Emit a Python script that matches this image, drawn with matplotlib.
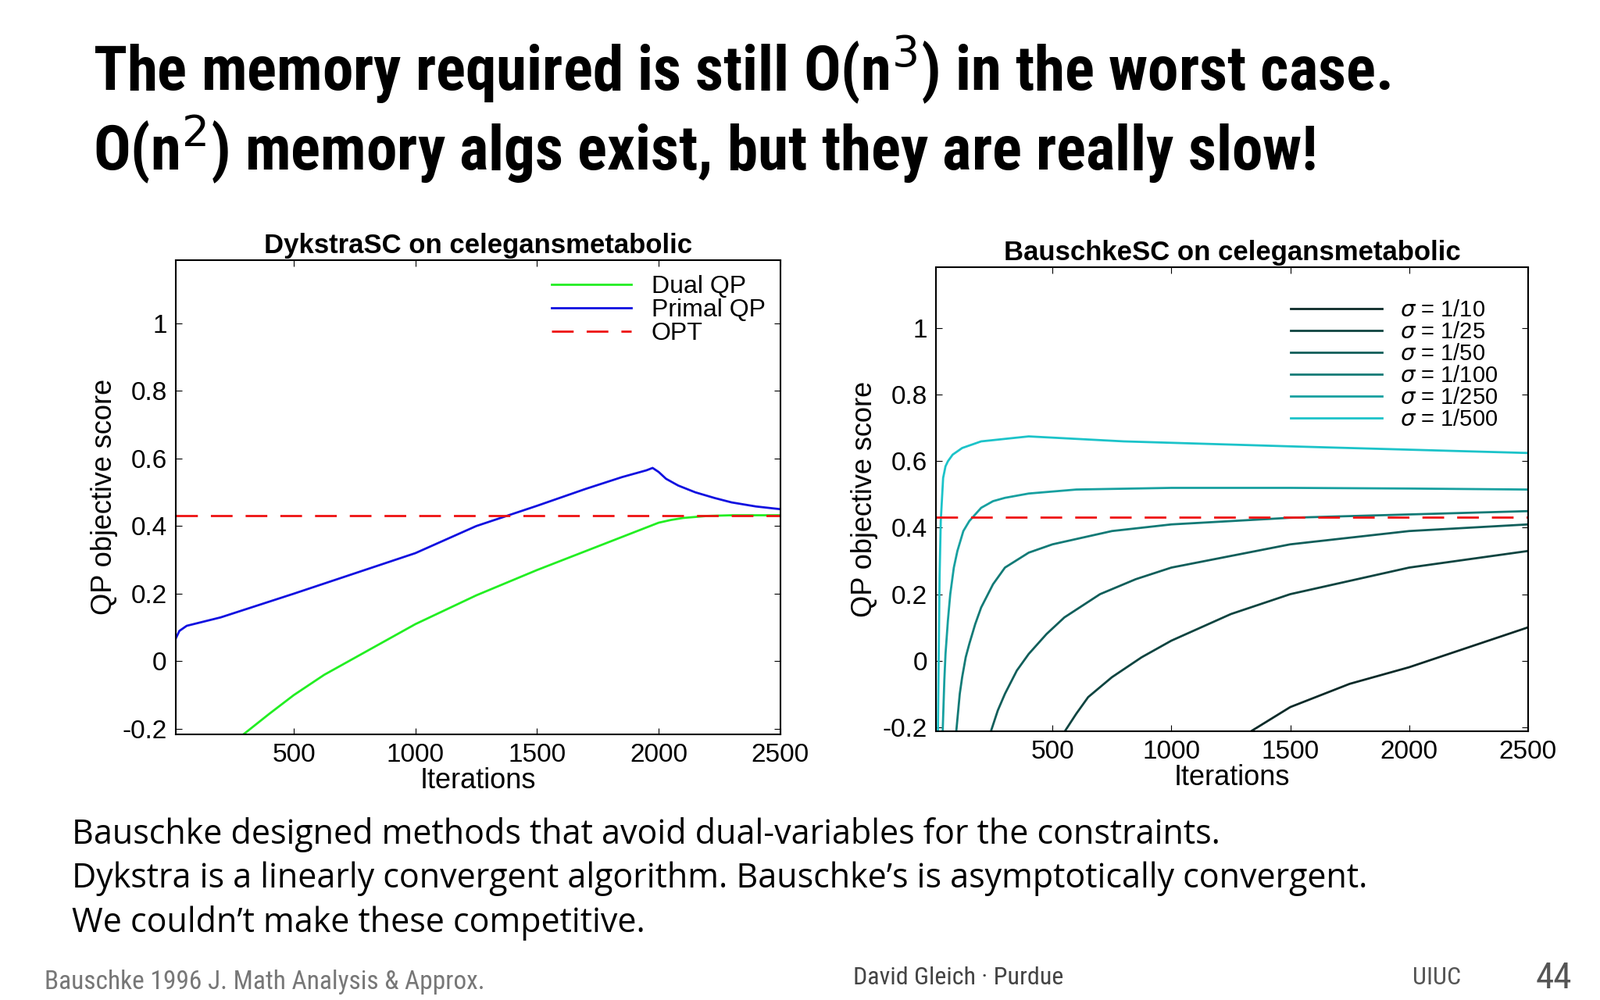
import matplotlib
matplotlib.use("Agg")
import matplotlib.pyplot as plt

plt.rcParams['font.family'] = ['Liberation Sans', 'DejaVu Sans']

# Left panel data (DykstraSC)
dual_x = [295, 400, 500, 625, 750, 875, 1000, 1250, 1500, 1750, 2000, 2050, 2100, 2200, 2300, 2500]
dual_y = [-0.215, -0.155, -0.10, -0.04, 0.01, 0.06, 0.11, 0.195, 0.27, 0.34, 0.41, 0.418, 0.424, 0.43, 0.432, 0.432]
primal_x = [10, 30, 60, 200, 500, 750, 1000, 1250, 1500, 1700, 1850, 1950, 1975, 2000, 2030, 2080, 2150, 2230, 2300, 2400, 2500]
primal_y = [0.06, 0.09, 0.105, 0.13, 0.20, 0.26, 0.32, 0.40, 0.46, 0.51, 0.545, 0.565, 0.572, 0.56, 0.54, 0.52, 0.50, 0.483, 0.47, 0.458, 0.45]
opt = 0.432

# Right panel data (BauschkeSC)
sigma_labels = ['1/10', '1/25', '1/50', '1/100', '1/250', '1/500']
sigma_x = [
    [1330, 1500, 1750, 2000, 2250, 2500],
    [550, 600, 650, 750, 875, 1000, 1250, 1500, 2000, 2500],
    [240, 270, 300, 350, 400, 475, 550, 700, 850, 1000, 1500, 2000, 2500],
    [95, 110, 120, 135, 150, 175, 200, 250, 300, 400, 500, 750, 1000, 1500, 2000, 2500],
    [38, 45, 50, 60, 70, 85, 100, 125, 150, 200, 250, 300, 400, 600, 1000, 1500, 2000, 2500],
    [18, 22, 25, 30, 40, 50, 60, 80, 120, 200, 400, 800, 1500, 2000, 2500],
]
sigma_y = [
    [-0.215, -0.14, -0.07, -0.02, 0.04, 0.10],
    [-0.215, -0.16, -0.11, -0.05, 0.01, 0.06, 0.14, 0.20, 0.28, 0.33],
    [-0.215, -0.15, -0.10, -0.03, 0.02, 0.08, 0.13, 0.20, 0.245, 0.28, 0.35, 0.39, 0.41],
    [-0.215, -0.10, -0.05, 0.01, 0.05, 0.11, 0.16, 0.23, 0.28, 0.325, 0.35, 0.39, 0.41, 0.43, 0.44, 0.45],
    [-0.215, -0.06, 0.02, 0.12, 0.20, 0.28, 0.33, 0.39, 0.42, 0.46, 0.48, 0.49, 0.503, 0.515, 0.52, 0.52, 0.518, 0.515],
    [-0.215, 0.05, 0.25, 0.42, 0.55, 0.585, 0.60, 0.62, 0.64, 0.66, 0.675, 0.66, 0.645, 0.635, 0.625],
]
sigma_colors = ['#0b2a28', '#0e4440', '#105e5a', '#127a76', '#17a0a0', '#1cc3c9']

fig = plt.figure(figsize=(20.48, 12.8), dpi=100)
fig.patch.set_facecolor('white')

title_font = ['Liberation Sans Narrow', 'Roboto Condensed', 'DejaVu Sans']
fig.text(0.058, 0.93, "The memory required is still O(n$^3$) in the worst case.",
         fontsize=57, fontweight='bold', family=title_font, va='center')
fig.text(0.058, 0.85, "O(n$^2$) memory algs exist, but they are really slow!",
         fontsize=57, fontweight='bold', family=title_font, va='center')

tick_kw = dict(labelsize=24, direction='in', length=6, top=True, right=True, pad=8)

ax1 = fig.add_axes([0.1097, 0.266, 0.378, 0.474])
ax1.plot(dual_x, dual_y, color='#22ee22', lw=2, label='Dual QP')
ax1.plot(primal_x, primal_y, color='#1010e0', lw=2, label='Primal QP')
ax1.axhline(opt, color='#ee1111', lw=2, dashes=(10, 6), label='OPT')
ax1.set_xlim(14, 2500)
ax1.set_ylim(-0.215, 1.187)
ax1.set_xticks([500, 1000, 1500, 2000, 2500])
ax1.set_yticks([-0.2, 0, 0.2, 0.4, 0.6, 0.8, 1])
ax1.set_yticklabels(['-0.2', '0', '0.2', '0.4', '0.6', '0.8', '1'])
ax1.tick_params(**tick_kw)
ax1.set_xlabel('Iterations', fontsize=26, labelpad=0)
ax1.set_ylabel('QP objective score', fontsize=26)
ax1.set_title('DykstraSC on celegansmetabolic', fontsize=25, fontweight='bold')
ax1.legend(loc='upper right', fontsize=23, frameon=False, handlelength=3.2,
           labelspacing=0.0, borderaxespad=0.2)
for s in ax1.spines.values():
    s.set_linewidth(1.5)

ax2 = fig.add_axes([0.585, 0.269, 0.370, 0.464])
for xs, ys, c, lab in zip(sigma_x, sigma_y, sigma_colors, sigma_labels):
    ax2.plot(xs, ys, color=c, lw=2, label=r'$\sigma$ = ' + lab)
ax2.axhline(opt, color='#ee1111', lw=2, dashes=(10, 6))
ax2.set_xlim(10, 2500)
ax2.set_ylim(-0.212, 1.185)
ax2.set_xticks([500, 1000, 1500, 2000, 2500])
ax2.set_yticks([-0.2, 0, 0.2, 0.4, 0.6, 0.8, 1])
ax2.set_yticklabels(['-0.2', '0', '0.2', '0.4', '0.6', '0.8', '1'])
ax2.tick_params(**tick_kw)
ax2.set_xlabel('Iterations', fontsize=26, labelpad=0)
ax2.set_ylabel('QP objective score', fontsize=26)
ax2.set_title('BauschkeSC on celegansmetabolic', fontsize=25, fontweight='bold')
ax2.legend(loc='upper right', fontsize=21, frameon=False, handlelength=4,
           labelspacing=0.0, borderaxespad=0.4, bbox_to_anchor=(0.98, 0.97))
for s in ax2.spines.values():
    s.set_linewidth(1.5)

body = ["Bauschke designed methods that avoid dual-variables for the constraints.",
        "Dykstra is a linearly convergent algorithm. Bauschke\u2019s is asymptotically convergent.",
        "We couldn\u2019t make these competitive."]
for i, line in enumerate(body):
    fig.text(0.045, 0.165 - i * 0.044, line, fontsize=31, family='Open Sans', va='center')

fig.text(0.028, 0.018, "Bauschke 1996 J. Math Analysis & Approx.", fontsize=24,
         color='#777777', family=title_font, va='center')
fig.text(0.533, 0.022, "David Gleich \u00b7 Purdue", fontsize=23, color='#444444',
         family=title_font, va='center')
fig.text(0.883, 0.022, "UIUC", fontsize=23, color='#555555', family=title_font, va='center')
fig.text(0.96, 0.022, "44", fontsize=34, color='#555555', family=title_font, va='center')

fig.savefig('out.png', dpi=100)
